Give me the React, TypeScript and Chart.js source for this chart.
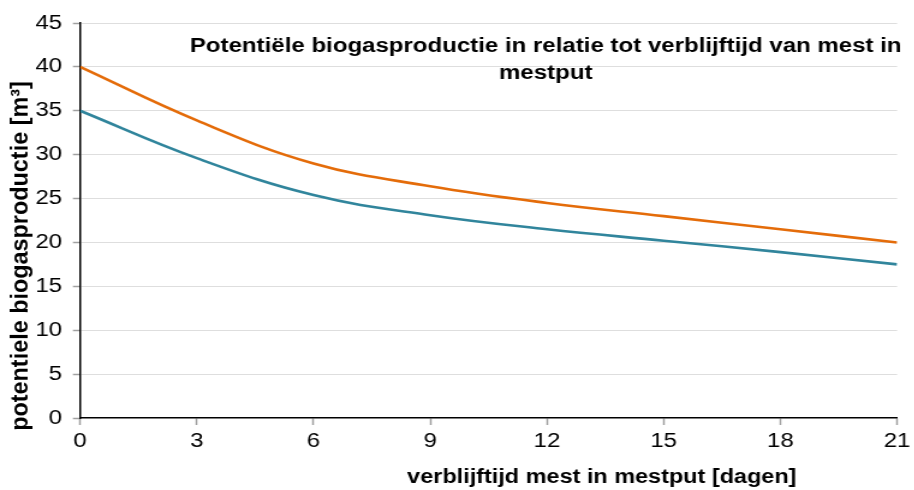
import React, { useEffect, useRef } from "react";
import { Chart, registerables } from "chart.js";

Chart.register(...registerables);

const days = [0, 3, 6, 9, 12, 15, 18, 21];
const seriesOrange = [40, 33.9, 29.0, 26.4, 24.5, 23.0, 21.5, 20.0];
const seriesTeal = [35, 29.6, 25.4, 23.1, 21.5, 20.2, 18.9, 17.5];
const titleLines = ["Potentiële biogasproductie in relatie tot verblijftijd van mest in", "mestput"];
const yTitle = "potentiele biogasproductie [m³]";
const xTitle = "verblijftijd mest in mestput [dagen]";

const FONT = "'Liberation Sans', Arial, sans-serif";
const STRETCH = 1.2;
const INNER_W = 914 / STRETCH;

const textPlugin = {
  id: "customText",
  afterDraw(chart: any) {
    const ctx = chart.ctx;
    ctx.save();
    ctx.fillStyle = "#000";
    ctx.textAlign = "center";
    ctx.textBaseline = "middle";
    ctx.font = `bold 20px ${FONT}`;
    ctx.fillText(titleLines[0], 545 / STRETCH, 46);
    ctx.fillText(titleLines[1], 545 / STRETCH, 73);
    ctx.font = `bold 19.5px ${FONT}`;
    ctx.fillText(xTitle, 601 / STRETCH, 478);
    ctx.translate(21 / STRETCH, 256);
    ctx.rotate(-Math.PI / 2);
    ctx.scale(STRETCH, 1);
    ctx.fillText(yTitle, 0, 0);
    ctx.restore();
  },
};

export default function App() {
  const ref = useRef<HTMLCanvasElement | null>(null);
  useEffect(() => {
    document.body.style.margin = "0";
    const chart = new Chart(ref.current as HTMLCanvasElement, {
      type: "line",
      data: {
        datasets: [
          {
            data: days.map((d, i) => ({ x: d, y: seriesOrange[i] })),
            borderColor: "#E46C0A",
            borderWidth: 2.6,
            pointRadius: 0,
            tension: 0.4,
          },
          {
            data: days.map((d, i) => ({ x: d, y: seriesTeal[i] })),
            borderColor: "#31859C",
            borderWidth: 2.6,
            pointRadius: 0,
            tension: 0.4,
          },
        ],
      },
      options: {
        animation: false,
        responsive: true,
        maintainAspectRatio: false,
        layout: { padding: { left: 0, right: INNER_W - 900 / STRETCH, top: 23, bottom: 0 } },
        plugins: { legend: { display: false }, tooltip: { enabled: false } },
        scales: {
          x: {
            type: "linear",
            min: 0,
            max: 21,
            afterFit: (s: any) => {
              s.height = 72;
            },
            ticks: { stepSize: 3, color: "#000", font: { family: FONT, size: 20 }, padding: 4, maxRotation: 0 },
            grid: { drawOnChartArea: false, drawTicks: true, tickLength: 7, tickColor: "#a0a0a0", tickWidth: 1.5 },
            border: { display: true, color: "#000", width: 1.5 },
          },
          y: {
            min: 0,
            max: 45,
            afterFit: (s: any) => {
              s.width = 80 / STRETCH;
            },
            ticks: { stepSize: 5, color: "#000", font: { family: FONT, size: 20 }, padding: 9 },
            grid: {
              color: (c: any) => (c.tick && c.tick.value === 0 ? "rgba(0,0,0,0)" : "#dedede"),
              lineWidth: 1,
              borderDash: [1, 3],
              drawTicks: true,
              tickLength: 6,
              tickColor: "#a0a0a0",
              tickWidth: 1.5,
              tickBorderDash: [],
            } as any,
            border: { display: true, color: "#000", width: 1.5 },
          },
        },
      },
      plugins: [textPlugin],
    } as any);
    return () => chart.destroy();
  }, []);
  return (
    <div
      style={{
        position: "absolute",
        left: 0,
        top: 0,
        width: INNER_W,
        height: 490,
        transform: `scaleX(${STRETCH})`,
        transformOrigin: "0 0",
      }}
    >
      <canvas ref={ref} />
    </div>
  );
}
